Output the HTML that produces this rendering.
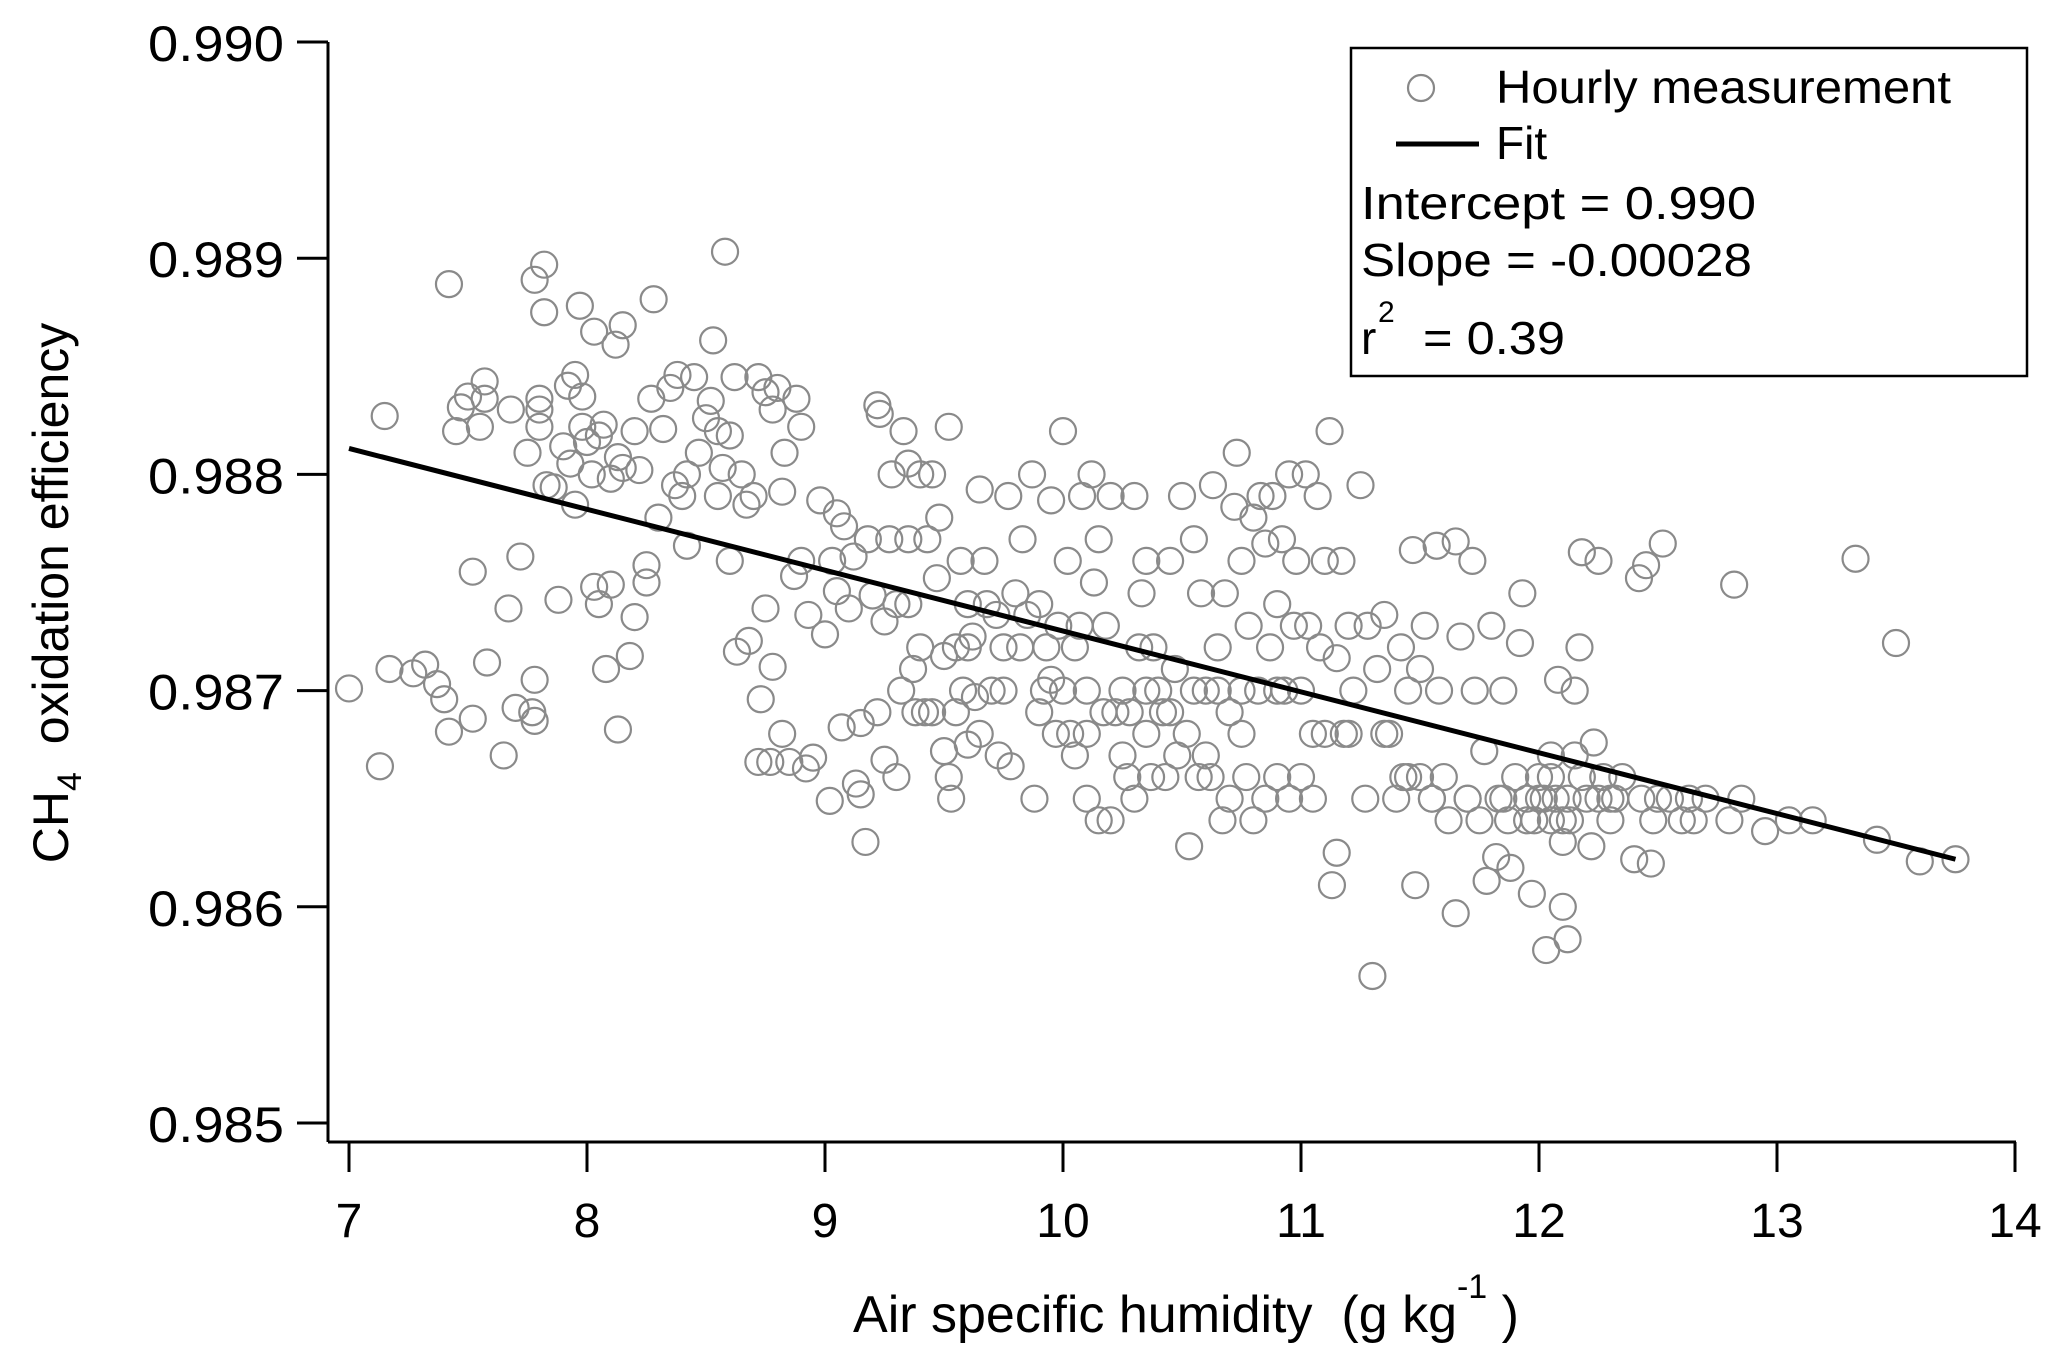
<!DOCTYPE html>
<html><head><meta charset="utf-8"><style>
html,body{margin:0;padding:0;background:#fff}
svg{display:block}
text{font-family:"Liberation Sans",sans-serif;fill:#000}
</style></head><body>
<svg id="chart" width="2067" height="1371" viewBox="0 0 2067 1371" xmlns="http://www.w3.org/2000/svg">
<g id="axes"></g>
<g id="points"></g>
<g id="fit"></g>
<g id="legend">
  <rect x="1351" y="48" width="676" height="328" fill="#fff" stroke="#000" stroke-width="2.5"/>
  <circle cx="1421" cy="88" r="13" fill="none" stroke="#888" stroke-width="2.2"/>
  <text x="1496" y="103" font-size="46" textLength="455" lengthAdjust="spacingAndGlyphs">Hourly measurement</text>
  <line x1="1396" y1="144" x2="1479" y2="144" stroke="#000" stroke-width="5"/>
  <text x="1496" y="159" font-size="46">Fit</text>
  <text x="1361" y="219" font-size="46" textLength="395" lengthAdjust="spacingAndGlyphs">Intercept = 0.990</text>
  <text x="1361" y="276" font-size="46" textLength="391" lengthAdjust="spacingAndGlyphs">Slope = -0.00028</text>
  <text x="1361" y="354" font-size="46">r</text>
  <text x="1378" y="322" font-size="30">2</text>
  <text x="1423" y="354" font-size="46" textLength="142" lengthAdjust="spacingAndGlyphs">= 0.39</text>
</g>
<text transform="translate(68,593) rotate(-90)" text-anchor="middle" font-size="50" xml:space="preserve">CH<tspan dy="13" font-size="34">4</tspan><tspan dy="-13">  oxidation efficiency</tspan></text>
<text x="1186" y="1332" text-anchor="middle" font-size="52" xml:space="preserve">Air specific humidity  (g kg<tspan dy="-34" font-size="34">-1</tspan><tspan dy="34"> )</tspan></text>
</svg>
<script>
const xTicks=[7,8,9,10,11,12,13,14];
const yTicks=[0.985,0.986,0.987,0.988,0.989,0.990];
const yTickLabels=["0.985","0.986","0.987","0.988","0.989","0.990"];
const fitX=[7,13.75];
const fitY=[0.98812,0.98622];
const humidity=[7.0,7.13,7.15,7.17,7.27,7.32,7.37,7.40,7.42,7.42,7.45,7.47,7.50,7.52,7.52,7.55,7.57,7.57,7.58,7.65,7.67,7.68,7.70,7.72,7.75,7.77,7.78,7.78,7.78,7.80,7.80,7.80,7.82,7.82,7.83,7.86,7.88,7.90,7.92,7.93,7.95,7.95,7.97,7.98,7.98,8.0,8.02,8.03,8.03,8.05,8.05,8.07,8.08,8.10,8.10,8.12,8.13,8.13,8.15,8.15,8.18,8.20,8.20,8.22,8.25,8.25,8.27,8.28,8.30,8.32,8.35,8.37,8.38,8.40,8.42,8.42,8.45,8.47,8.50,8.52,8.53,8.55,8.55,8.57,8.58,8.60,8.62,8.63,8.65,8.67,8.68,8.70,8.72,8.72,8.73,8.75,8.75,8.77,8.78,8.78,8.80,8.82,8.82,8.83,8.85,8.87,8.88,8.90,8.92,8.93,8.95,8.98,9.00,9.02,9.03,9.05,9.05,9.07,9.08,9.10,9.12,9.13,9.15,9.15,9.17,9.18,9.20,9.22,9.22,9.23,9.25,9.25,9.27,9.28,9.30,9.30,9.32,9.33,9.35,9.35,9.37,9.38,9.40,9.40,9.42,9.43,9.45,9.45,9.47,9.48,9.50,9.50,9.52,9.52,9.53,9.55,9.57,9.58,9.60,9.60,9.62,9.63,9.65,9.65,9.67,9.68,9.70,9.72,9.73,9.75,9.77,9.78,9.80,9.82,9.83,9.85,9.87,9.88,9.90,9.92,9.93,9.95,9.95,9.97,9.98,10.0,10.0,10.02,10.03,10.05,10.05,10.07,10.08,10.10,10.10,10.12,10.13,10.15,10.15,10.17,10.18,10.20,10.20,10.22,10.25,10.27,10.28,10.30,10.30,10.32,10.33,10.35,10.35,10.37,10.38,10.40,10.42,10.43,10.45,10.47,10.48,10.50,10.52,10.53,10.55,10.55,10.57,10.58,10.60,10.62,10.63,10.65,10.67,10.68,10.70,10.70,10.72,10.73,10.75,10.75,10.77,10.78,10.80,10.80,10.82,10.83,10.85,10.85,10.87,10.88,10.90,10.90,10.92,10.93,10.95,10.95,10.97,10.98,11.00,11.00,11.02,11.03,11.05,11.07,11.08,11.10,11.10,11.12,11.13,11.15,11.15,11.17,11.18,11.20,11.22,11.25,11.27,11.28,11.30,11.32,11.35,11.37,11.40,11.42,11.43,11.45,11.47,11.48,11.50,11.50,11.52,11.55,11.57,11.58,11.60,11.62,11.65,11.65,11.67,11.70,11.72,11.73,11.75,11.77,11.78,11.80,11.82,11.83,11.85,11.87,11.88,11.90,11.92,11.93,11.95,11.97,11.98,12.00,12.02,12.03,12.05,12.05,12.07,12.08,12.10,12.10,12.12,12.13,12.15,12.15,12.17,12.18,12.20,12.22,12.23,12.25,12.27,12.30,12.32,12.35,12.40,12.42,12.43,12.45,12.47,12.48,12.50,12.52,12.55,12.60,12.63,12.65,12.70,12.80,12.82,12.85,12.95,13.05,13.15,13.33,13.42,13.50,13.60,13.75,
9.55,9.75,9.9,10.1,10.25,10.45,10.6,10.75,10.9,11.05,11.35,11.45,11.55,11.7,11.85,11.95,12.0,12.05,12.1,12.12,12.18,12.25,12.3,8.6,8.9,9.35,9.6,10.35,10.65,11.2];
const efficiency=[0.98701,0.98665,0.98827,0.98710,0.98708,0.98712,0.98703,0.98696,0.98888,0.98681,0.98820,0.98831,0.98836,0.98687,0.98755,0.98822,0.98835,0.98843,0.98713,0.98670,0.98738,0.98830,0.98692,0.98762,0.98810,0.98690,0.98686,0.98705,0.98890,0.98835,0.98830,0.98822,0.98875,0.98897,0.98795,0.98794,0.98742,0.98813,0.98841,0.98805,0.98846,0.98786,0.98878,0.98822,0.98836,0.98815,0.98800,0.98866,0.98748,0.98740,0.98818,0.98823,0.98710,0.98749,0.98798,0.98860,0.98682,0.98808,0.98869,0.98803,0.98716,0.98734,0.98820,0.98802,0.98758,0.98750,0.98835,0.98881,0.98780,0.98821,0.98840,0.98795,0.98846,0.98790,0.98767,0.98800,0.98845,0.98810,0.98826,0.98834,0.98862,0.98820,0.98790,0.98803,0.98903,0.98818,0.98845,0.98718,0.98800,0.98786,0.98723,0.98790,0.98845,0.98667,0.98696,0.98738,0.98838,0.98667,0.98830,0.98711,0.98840,0.98792,0.98680,0.98810,0.98667,0.98753,0.98835,0.98822,0.98664,0.98735,0.98669,0.98788,0.98726,0.98649,0.98760,0.98782,0.98746,0.98683,0.98776,0.98738,0.98762,0.98657,0.98652,0.98685,0.98630,0.98770,0.98744,0.98690,0.98832,0.98828,0.98668,0.98732,0.98770,0.98800,0.98660,0.98740,0.98700,0.98820,0.98805,0.98770,0.98710,0.98690,0.98800,0.98720,0.98690,0.98770,0.98690,0.98800,0.98752,0.98780,0.98716,0.98672,0.98660,0.98822,0.98650,0.98720,0.98760,0.98700,0.98740,0.98675,0.98725,0.98697,0.98793,0.98680,0.98760,0.98740,0.98700,0.98735,0.98670,0.98720,0.98790,0.98665,0.98745,0.98720,0.98770,0.98735,0.98800,0.98650,0.98740,0.98700,0.98720,0.98788,0.98705,0.98680,0.98730,0.98820,0.98700,0.98760,0.98680,0.98670,0.98720,0.98730,0.98790,0.98650,0.98700,0.98800,0.98750,0.98640,0.98770,0.98690,0.98730,0.98640,0.98790,0.98690,0.98700,0.98660,0.98690,0.98650,0.98790,0.98720,0.98745,0.98680,0.98760,0.98660,0.98720,0.98700,0.98690,0.98660,0.98760,0.98710,0.98670,0.98790,0.98680,0.98628,0.98700,0.98770,0.98660,0.98745,0.98700,0.98660,0.98795,0.98720,0.98640,0.98745,0.98690,0.98650,0.98785,0.98810,0.98760,0.98700,0.98660,0.98730,0.98780,0.98640,0.98700,0.98790,0.98768,0.98650,0.98720,0.98790,0.98740,0.98660,0.98770,0.98700,0.98800,0.98650,0.98730,0.98760,0.98700,0.98660,0.98800,0.98730,0.98650,0.98790,0.98720,0.98680,0.98760,0.98820,0.98610,0.98625,0.98715,0.98760,0.98680,0.98730,0.98700,0.98795,0.98650,0.98730,0.98568,0.98710,0.98735,0.98680,0.98650,0.98720,0.98660,0.98700,0.98765,0.98610,0.98710,0.98660,0.98730,0.98650,0.98767,0.98700,0.98660,0.98640,0.98597,0.98769,0.98725,0.98650,0.98760,0.98700,0.98640,0.98672,0.98612,0.98730,0.98623,0.98650,0.98700,0.98640,0.98618,0.98660,0.98722,0.98745,0.98650,0.98606,0.98640,0.98660,0.98650,0.98580,0.98640,0.98670,0.98650,0.98705,0.98630,0.98600,0.98585,0.98640,0.98700,0.98670,0.98720,0.98764,0.98650,0.98628,0.98676,0.98760,0.98660,0.98640,0.98650,0.98660,0.98622,0.98752,0.98650,0.98758,0.98620,0.98640,0.98650,0.98768,0.98650,0.98640,0.98650,0.98640,0.98650,0.98640,0.98749,0.98650,0.98635,0.98640,0.98640,0.98761,0.98631,0.98722,0.98621,0.98622,
0.98690,0.98700,0.98690,0.98680,0.98670,0.98690,0.98670,0.98680,0.98700,0.98680,0.98680,0.98660,0.98650,0.98650,0.98650,0.98640,0.98650,0.98660,0.98640,0.98650,0.98660,0.98650,0.98650,0.98760,0.98760,0.98740,0.98720,0.98700,0.98700,0.98680];

const NS="http://www.w3.org/2000/svg";
const X0=349, XU=238, Y0=42, YU=216200;
function sx(v){return X0+(v-7)*XU;}
function sy(v){return Y0+(0.990-v)*YU;}
function mk(tag,attrs,parent){const e=document.createElementNS(NS,tag);for(const k in attrs)e.setAttribute(k,attrs[k]);parent.appendChild(e);return e;}

const axes=document.getElementById('axes');
let e=mk('line',{x1:328,y1:sy(0.990),x2:328,y2:1142,stroke:'#000','stroke-width':3},axes);


e=mk('line',{x1:328,y1:1142,x2:sx(14)+1,y2:1142,stroke:'#000','stroke-width':3},axes);


yTicks.forEach((t,i)=>{
  const tk=mk('line',{x1:297,y1:sy(t),x2:328,y2:sy(t),stroke:'#000','stroke-width':3},axes);
  
  
  const lb=mk('text',{x:284,y:sy(t)+19,'text-anchor':'end','font-size':50,textLength:136,lengthAdjust:'spacingAndGlyphs'},axes);
  lb.textContent=yTickLabels[i];
  
  
});
xTicks.forEach(t=>{
  const tk=mk('line',{x1:sx(t),y1:1142,x2:sx(t),y2:1172,stroke:'#000','stroke-width':3},axes);
  
  
  const lb=mk('text',{x:sx(t),y:1237,'text-anchor':'middle','font-size':48},axes);
  lb.textContent=String(t);
  
  
});
const pts=document.getElementById('points');
humidity.forEach((h,i)=>{
  const c=mk('circle',{cx:sx(h),cy:sy(efficiency[i]),r:13,fill:'none',stroke:'#8a8a8a','stroke-width':2.2},pts);
  
  
});
const fl=mk('line',{x1:sx(fitX[0]),y1:sy(fitY[0]),x2:sx(fitX[1]),y2:sy(fitY[1]),stroke:'#000','stroke-width':5},document.getElementById('fit'));


</script>
</body></html>
